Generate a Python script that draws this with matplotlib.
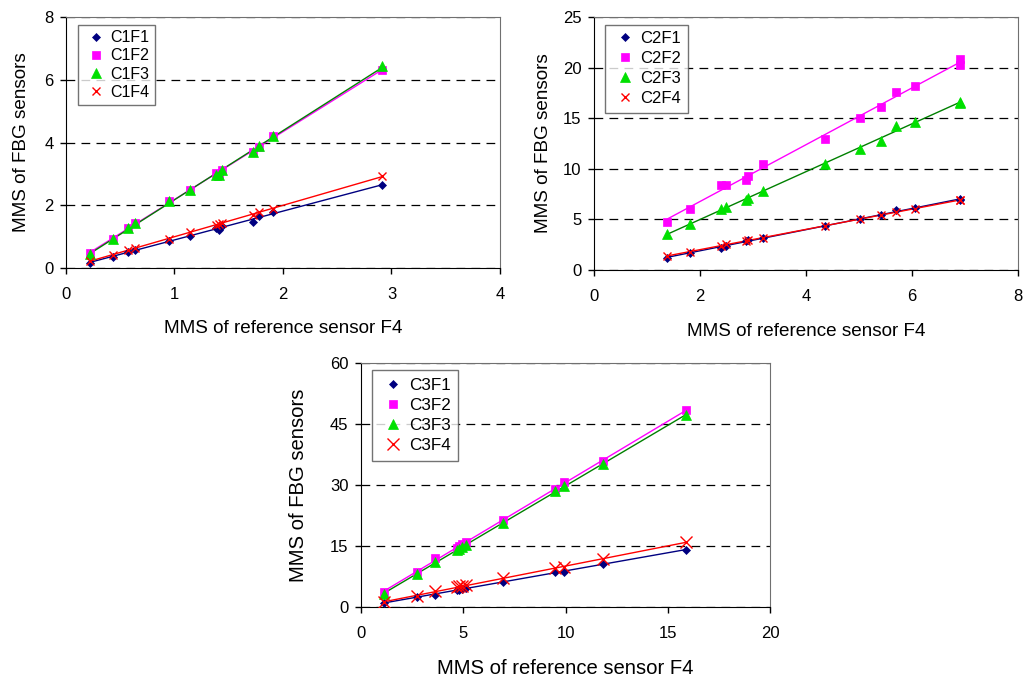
import matplotlib
matplotlib.use("Agg")
import matplotlib.pyplot as plt
import numpy as np

plt.rcParams['font.family'] = ['Liberation Sans', 'DejaVu Sans']

# case 1
x1 = [0.22, 0.43, 0.575, 0.636, 0.95, 1.14, 1.38, 1.41, 1.44, 1.72, 1.78, 1.91, 2.91]
c1f1 = [0.17, 0.35, 0.51, 0.58, 0.86, 1.03, 1.27, 1.22, 1.33, 1.46, 1.65, 1.78, 2.64]
c1f2 = [0.48, 0.92, 1.27, 1.43, 2.14, 2.49, 3.03, 2.97, 3.11, 3.69, 3.87, 4.21, 6.32]
c1f3 = [0.45, 0.92, 1.27, 1.43, 2.14, 2.49, 2.95, 2.97, 3.11, 3.69, 3.90, 4.21, 6.45]
c1f4 = [0.21, 0.42, 0.58, 0.64, 0.94, 1.15, 1.38, 1.41, 1.45, 1.70, 1.77, 1.89, 2.92]

# case 2
x2 = [1.385, 1.81, 2.39, 2.50, 2.87, 2.91, 3.18, 4.35, 5.01, 5.42, 5.70, 6.05, 6.91, 6.91]
c2f1 = [1.16, 1.72, 2.21, 2.41, 2.90, 2.97, 3.14, 4.36, 5.02, 5.45, 5.94, 6.10, 7.00, 6.95]
c2f2 = [4.79, 6.00, 8.42, 8.42, 8.91, 9.34, 10.50, 12.97, 15.00, 16.07, 17.56, 18.15, 20.86, 20.30]
c2f3 = [3.53, 4.55, 6.00, 6.20, 6.93, 7.16, 7.85, 10.46, 11.95, 12.77, 14.26, 14.62, 16.50, 16.60]
c2f4 = [1.39, 1.82, 2.38, 2.54, 2.90, 2.97, 3.14, 4.36, 5.02, 5.45, 5.78, 6.04, 6.93, 6.90]

# case 3
x3 = [1.14, 2.72, 3.62, 4.67, 4.80, 4.92, 5.13, 6.95, 9.48, 9.93, 11.84, 15.91]
c3f1 = [0.98, 2.53, 3.00, 4.10, 4.25, 4.40, 4.66, 6.05, 8.67, 8.67, 10.60, 14.06]
c3f2 = [3.68, 8.50, 12.00, 14.50, 15.00, 15.50, 15.90, 21.30, 29.00, 30.70, 35.90, 48.40]
c3f3 = [3.27, 8.10, 10.96, 14.06, 14.20, 14.70, 15.30, 20.60, 28.40, 29.80, 35.20, 47.20]
c3f4 = [1.14, 2.60, 3.84, 4.90, 5.07, 5.20, 5.30, 7.10, 9.50, 9.90, 11.85, 15.90]

marker_styles = [('D', '#000080', 4.5), ('s', '#FF00FF', 5.5), ('^', '#00E000', 6.5), ('x', '#FF0000', 6)]
line_colors = ['#000080', '#FF00FF', '#008000', '#FF0000']


def draw_case(ax, x, series, names, xmax, ymax, step_x, step_y, xsize=6,
              labelsize=14, ypad=8, legsize=11.5, legspace=0.2, legpad=0.35):
    x = np.array(x)
    for i, (ys, name) in enumerate(zip(series, names)):
        ys = np.array(ys)
        m, c, s = marker_styles[i]
        if m == 'x':
            s = xsize
        k, b = np.polyfit(x, ys, 1)
        xx = np.array([x.min(), x.max()])
        ax.plot(xx, k * xx + b, color=line_colors[i], lw=1, zorder=2)
        ax.plot(x, ys, linestyle='none', marker=m, color=c, markersize=s,
                markeredgewidth=1 if m == 'x' else 0.5, label=name, zorder=3)
    ax.set_xlim(0, xmax)
    ax.set_ylim(0, ymax)
    ax.set_xticks(np.arange(0, xmax + 0.01, step_x))
    ax.set_yticks(np.arange(0, ymax + 0.01, step_y))
    ax.yaxis.grid(True, color='black', linestyle=(0, (7, 5)), lw=0.9)
    ax.set_axisbelow(True)
    for side in ['left', 'bottom']:
        ax.spines[side].set_color('black')
    for side in ['top', 'right']:
        ax.spines[side].set_color('#707070')
    ax.tick_params(direction='out', length=4, width=1, labelsize=12)
    ax.tick_params(axis='x', pad=10)
    ax.tick_params(axis='y', pad=5)
    ax.set_xlabel('MMS of reference sensor F4', fontsize=labelsize, labelpad=13)
    ax.set_ylabel('MMS of FBG sensors', fontsize=labelsize, labelpad=ypad)
    leg = ax.legend(loc='upper left', bbox_to_anchor=(0.027, 0.97), borderaxespad=0,
                    fontsize=legsize, frameon=True, fancybox=False, handletextpad=0.1,
                    handlelength=1.6, labelspacing=legspace, borderpad=legpad)
    leg.get_frame().set_edgecolor('#505050')
    leg.get_frame().set_linewidth(1)


fig = plt.figure(figsize=(10.23, 6.8), dpi=100)
ax1 = fig.add_axes([0.0645, 0.6059, 0.4242, 0.369])
ax2 = fig.add_axes([0.5806, 0.6029, 0.4145, 0.372])
ax3 = fig.add_axes([0.3529, 0.1074, 0.3998, 0.3588])

draw_case(ax1, x1, [c1f1, c1f2, c1f3, c1f4], ['C1F1', 'C1F2', 'C1F3', 'C1F4'], 4, 8, 1, 2,
          labelsize=13.6, ypad=10)
draw_case(ax2, x2, [c2f1, c2f2, c2f3, c2f4], ['C2F1', 'C2F2', 'C2F3', 'C2F4'], 8, 25, 2, 5,
          labelsize=13.6, ypad=8, legsize=12, legspace=0.3, legpad=0.4)
draw_case(ax3, x3, [c3f1, c3f2, c3f3, c3f4], ['C3F1', 'C3F2', 'C3F3', 'C3F4'], 20, 60, 5, 15,
          xsize=9, labelsize=14.6, ypad=16, legsize=12.3, legspace=0.3, legpad=0.45)

fig.savefig('out.png', dpi=100)
